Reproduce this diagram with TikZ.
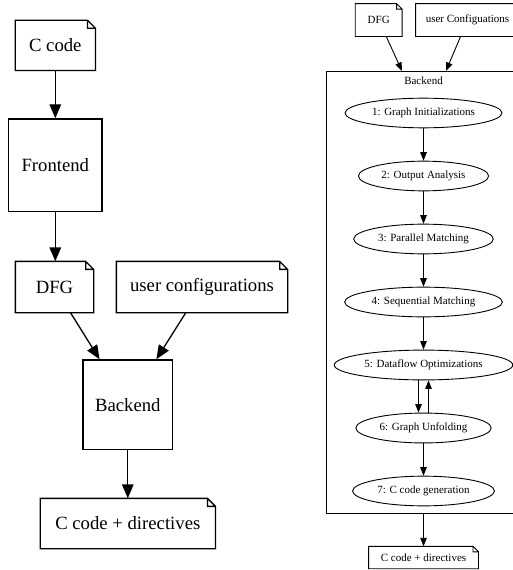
\documentclass[tikz,border=0pt]{standalone}
\usepackage{fontspec}
\setmainfont{Liberation Serif}
\usetikzlibrary{arrows.meta,shapes.geometric}

\tikzset{
  % document shape: rectangle with a folded top-right corner
  notebox/.style={inner sep=0pt, append after command={\pgfextra{%
      \draw (\tikzlastnode.north west) -- ([xshift=-#1]\tikzlastnode.north east)
         -- ([yshift=-#1]\tikzlastnode.north east) -- (\tikzlastnode.south east)
         -- (\tikzlastnode.south west) -- cycle
         ([xshift=-#1]\tikzlastnode.north east) |- ([yshift=-#1]\tikzlastnode.north east);}}},
  plainbox/.style={draw, inner sep=0pt},
  bigside/.style={line width=1.3pt, font=\fontsize{18.7}{22}\selectfont,
    >={Triangle[length=14pt,width=11.5pt]}},
  smallside/.style={line width=0.9pt, font=\fontsize{11}{13}\selectfont,
    >={Triangle[length=8.5pt,width=6.5pt]}},
  stage/.style={ellipse, draw, inner xsep=4pt, inner ysep=5.5pt},
  flow/.style={->},
}

\begin{document}
\begin{tikzpicture}[x=1pt, y=-1pt]
\useasboundingbox (0,0) rectangle (513,570);
\clip (0,0) rectangle (513,570);

% ---------- overall tool flow ----------
\begin{scope}[bigside]
  \node[notebox=8pt, minimum width=79pt, minimum height=49pt] (ccodeL) at (55.3,45.3) {C code};
  \node[plainbox, minimum width=93.4pt, minimum height=92.7pt] (frontL) at (55.3,165.3) {Frontend};
  \node[notebox=8pt, minimum width=77pt, minimum height=50pt] (dfgL) at (54.5,287) {DFG};
  \node[notebox=8pt, minimum width=170pt, minimum height=50pt] (userL) at (202,287) {user configurations};
  \node[plainbox, minimum width=89.5pt, minimum height=89.3pt] (backL) at (127.8,404.6) {Backend};
  \node[notebox=8pt, minimum width=174pt, minimum height=49pt] (ccdL) at (127.8,523.5) {C code + directives};

  \draw[flow] (ccodeL) -- (frontL);
  \draw[flow] (frontL) -- (dfgL.north -| frontL);
  \draw[flow] (dfgL) -- (backL);
  \draw[flow] (userL) -- (backL);
  \draw[flow] (backL) -- (ccdL);
\end{scope}

% ---------- backend internals ----------
\begin{scope}[smallside]
  \node[notebox=5.5pt, minimum width=46pt, minimum height=32pt] (dfgR) at (378.7,20) {DFG};
  \node[notebox=5.5pt, minimum width=103pt, minimum height=32pt] (userR) at (467.5,20) {user Configuations};

  \draw (326,71) rectangle (530,513);
  \node (clabel) at (423.5,81) {Backend};
  \coordinate (inA) at (402,71);
  \coordinate (inB) at (446,71);
  \coordinate (outC) at (423.5,513);

  \node[stage] (s1) at (423.5,113) {1: Graph Initializations};
  \node[stage] (s2) at (423.5,176) {2: Output Analysis};
  \node[stage] (s3) at (423.5,239) {3: Parallel Matching};
  \node[stage] (s4) at (423.5,302) {4: Sequential Matching};
  \node[stage] (s5) at (423.5,365) {5: Dataflow Optimizations};
  \node[stage] (s6) at (423.5,428) {6: Graph Unfolding};
  \node[stage] (s7) at (423.5,491) {7: C code generation};

  \node[notebox=5.5pt, minimum width=109pt, minimum height=21.5pt] (ccdR) at (423.5,557.5) {C code + directives};

  \draw[flow] (dfgR) -- (inA);
  \draw[flow] (userR) -- (inB);
  \draw[flow] (s1) -- (s2);
  \draw[flow] (s2) -- (s3);
  \draw[flow] (s3) -- (s4);
  \draw[flow] (s4) -- (s5);
  \draw[flow] ([xshift=-5pt]s5.south) -- ([xshift=-5pt]s6.north);
  \draw[flow] ([xshift=5pt]s6.north) -- ([xshift=5pt]s5.south);
  \draw[flow] (s6) -- (s7);
  \draw[flow] (outC) -- (ccdR);
\end{scope}
\end{tikzpicture}
\end{document}
